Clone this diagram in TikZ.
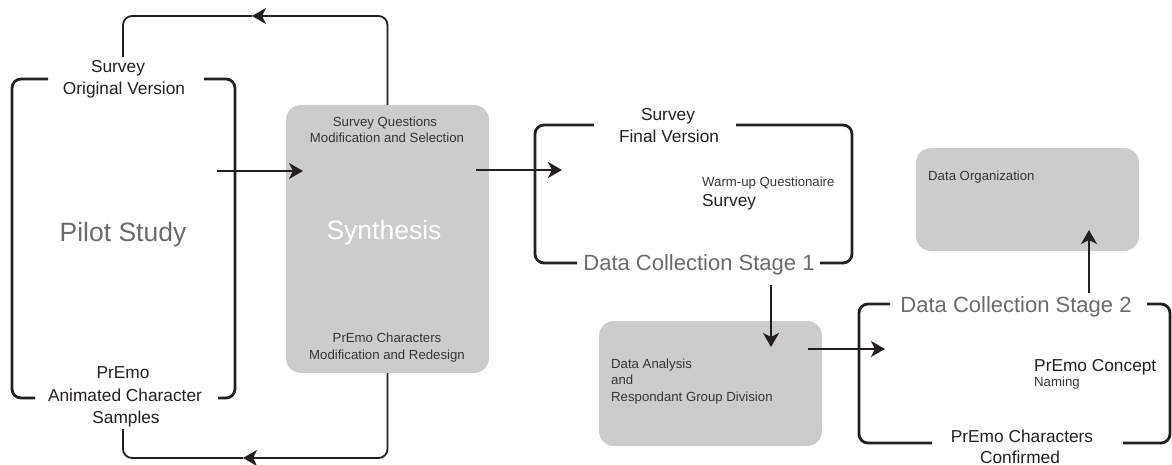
\documentclass[tikz,border=0pt]{standalone}
\usepackage{fontspec}
\setmainfont{Liberation Sans}
\usetikzlibrary{arrows.meta}
\definecolor{boxgray}{HTML}{CCCCCC}
\definecolor{labelgray}{HTML}{6A6A6A}
\definecolor{ink}{HTML}{231F20}

\tikzset{
  bracket/.style={draw=ink, line width=2.8pt, rounded corners=9pt},
  link/.style={draw=ink, line width=1.8pt, rounded corners=9pt},
  flow/.style={link, -{Stealth[length=14pt,width=16pt,inset=4pt]}},
  graybox/.style={fill=boxgray, rounded corners=15pt, inner sep=0pt},
  txt/.style={inner sep=0pt, anchor=base},
  big/.style={txt, text=labelgray, font=\fontsize{26.5}{30}\selectfont},
  mid/.style={txt, text=ink, font=\fontsize{17.3}{20}\selectfont},
  small/.style={txt, text=ink!90, font=\fontsize{13.2}{16}\selectfont},
}

\begin{document}
\begin{tikzpicture}[x=1pt,y=-1pt]
\useasboundingbox (0,0) rectangle (1172,465);

% gray boxes
\node[graybox, minimum width=203pt, minimum height=268pt] (synth) at (387.5,239) {};
\node[graybox, minimum width=223pt, minimum height=125pt] (analysis) at (710.5,383.5) {};
\node[graybox, minimum width=223pt, minimum height=103pt] (organize) at (1027.5,199.5) {};

% pilot study bracket
\draw[bracket] (48,79) -| (12,398) -- (35,398);
\draw[bracket] (204,79) -| (235,398) -- (218,398);
\node[mid] (survey) at (118,73) {Survey};
\node[mid] (original) at (124,95) {Original Version};
\node[big] (pilot) at (123,241) {Pilot Study};
\node[mid] (premo) at (123,378) {PrEmo};
\node[mid] (animated) at (125,401) {Animated Character};
\node[mid] (samples) at (126,423) {Samples};

% synthesis texts
\node[small] (sq) at (385,127) {Survey Questions};
\node[small] (modsel) at (387,143) {Modification and Selection};
\node[big, text=white] (synthesis) at (384,239) {Synthesis};
\node[small] (pc) at (387,342) {PrEmo Characters};
\node[small] (modred) at (387,359) {Modification and Redesign};

% stage 1 bracket
\draw[bracket] (594,125) -| (535,263) -- (577,263);
\draw[bracket] (736,125) -| (852,263) -- (820,263);
\node[mid] (survey1) at (668,121) {Survey};
\node[mid] (final) at (669,143) {Final Version};
\node[small, anchor=base west] (warmup) at (702,187) {Warm-up Questionaire};
\node[mid, anchor=base west] (survey2) at (702,207) {Survey};
\node[big, font=\fontsize{22}{26}\selectfont] (stage1) at (699,270) {Data Collection Stage 1};

% analysis texts
\node[small, anchor=base west] (da) at (611,368) {Data Analysis};
\node[small, anchor=base west] (and) at (611,384) {and};
\node[small, anchor=base west] (rgd) at (611,401) {Respondant Group Division};

% stage 2 bracket
\draw[bracket] (890,304) -| (859,443) -- (932,443);
\draw[bracket] (1147,304) -| (1170,443) -- (1123,443);
\node[big, font=\fontsize{22}{26}\selectfont] (stage2) at (1016,312) {Data Collection Stage 2};
\node[mid, anchor=base west] (concept) at (1034,371) {PrEmo Concept};
\node[small, anchor=base west] (naming) at (1034,386) {Naming};
\node[mid] (pchar) at (1022,442) {PrEmo Characters};
\node[mid] (confirmed) at (1020,463) {Confirmed};

% organization text
\node[small, anchor=base west] (dorg) at (928,181) {Data Organization};

% connectors
\coordinate (a1) at (217,171);
\coordinate (a2) at (303,171);
\coordinate (b1) at (476,170);
\coordinate (b2) at (562,170);
\coordinate (c1) at (771,285);
\coordinate (c2) at (771,347);
\coordinate (d1) at (808,349);
\coordinate (d2) at (885,349);
\coordinate (e1) at (1089,293);
\coordinate (e2) at (1089,230);
\draw[flow] (a1) -- (a2);
\draw[flow] (b1) -- (b2);
\draw[flow] (c1) -- (c2);
\draw[flow] (d1) -- (d2);
\draw[flow] (e1) -- (e2);

% feedback loops
\coordinate (top1) at (123,57);
\coordinate (tip1) at (252,16);
\coordinate (bot1) at (123,429);
\coordinate (tip2) at (243,458);
\draw[flow] (synth.north) |- (tip1);
\draw[link] (tip1) -| (top1);
\draw[flow] (synth.south) |- (tip2);
\draw[link] (tip2) -| (bot1);
\end{tikzpicture}
\end{document}
